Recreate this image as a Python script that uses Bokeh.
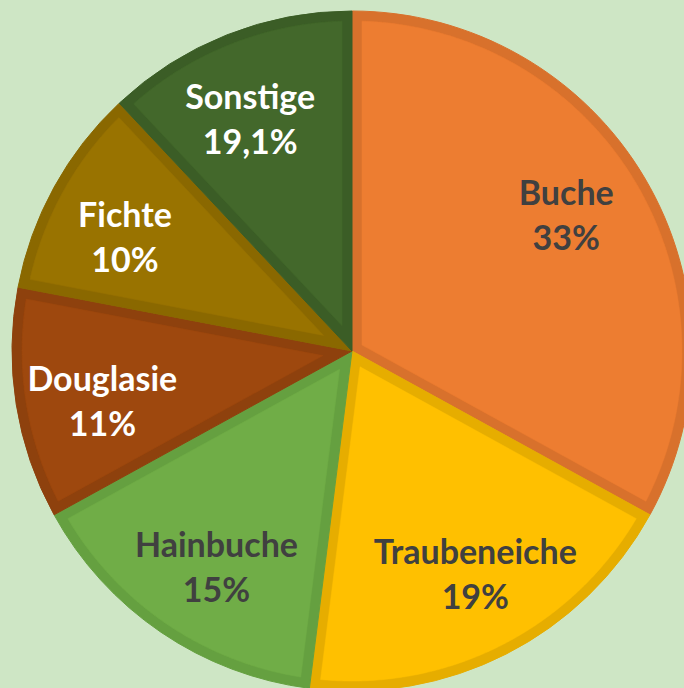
import numpy as np
from bokeh.plotting import figure
from bokeh.models import Range1d, ColumnDataSource
from bokeh.embed import file_html
from bokeh.resources import INLINE
from bokeh.core.properties import value

# ---- data ----
species = ["Buche", "Traubeneiche", "Hainbuche", "Douglasie", "Fichte", "Sonstige"]
shares = [33, 19, 15, 11, 10, 12]          # wedge sizes as drawn
pct_labels = ["33%", "19%", "15%", "11%", "10%", "19,1%"]

# ---- styles ----
fill_colors = ["#ED7D31", "#FFC000", "#70AD47", "#9E480E", "#997300", "#43682B"]
edge_colors = ["#D8712C", "#E6AD00", "#65A040", "#8E410D", "#8A6800", "#3B5D26"]
text_colors = ["#404040", "#404040", "#404040", "#FFFFFF", "#FFFFFF", "#FFFFFF"]
BG = "#CEE6C5"

W, H = 684, 688
cx, cy = 351.5, H - 350.5
R = 340.0
inset = 10.0
label_r = 0.748 * R
label_rot = np.deg2rad(2.0)
line_gap = 22.5

p = figure(width=W, height=H, x_range=Range1d(0, W), y_range=Range1d(0, H),
           x_axis_location=None, y_axis_location=None, toolbar_location=None,
           output_backend="svg", min_border=0)
p.grid.visible = False
p.outline_line_color = None
p.background_fill_color = BG
p.border_fill_color = BG

total = float(sum(shares))
start = np.pi / 2
starts, ends, mids = [], [], []
xs_in, ys_in = [], []
Rin = R - inset
t = np.sqrt(Rin ** 2 - inset ** 2)
delta = np.arctan2(inset, t)
for v in shares:
    span = 2 * np.pi * v / total
    s = start
    e = s - span
    h = span / 2
    mid = s - h
    vr = inset / np.sin(h)
    arc = np.linspace(s - delta, e + delta, 160)
    xs = [cx + vr * np.cos(mid)] + list(cx + Rin * np.cos(arc))
    ys = [cy + vr * np.sin(mid)] + list(cy + Rin * np.sin(arc))
    xs_in.append(xs)
    ys_in.append(ys)
    starts.append(s)
    ends.append(e)
    mids.append(mid)
    start = e

wsrc = ColumnDataSource(dict(start=ends, end=starts, color=edge_colors))
p.wedge(x=cx, y=cy, radius=R, start_angle="start", end_angle="end",
        direction="anticlock", fill_color="color", line_color="color",
        line_width=1, source=wsrc)
p.patches(xs=xs_in, ys=ys_in, fill_color=fill_colors, line_color=fill_colors,
          line_width=0.5)

mids = np.array(mids) + label_rot
lx = cx + label_r * np.cos(mids)
ly = cy + label_r * np.sin(mids)
tsrc = ColumnDataSource(dict(x=lx, y1=ly + line_gap, y2=ly - line_gap,
                             name=species, pct=pct_labels, color=text_colors))
for ycol, tcol in (("y1", "name"), ("y2", "pct")):
    p.text(x="x", y=ycol, text=tcol, source=tsrc, text_color="color",
           text_font=value("Lato"), text_font_style="bold",
           text_font_size="34px", text_align="center", text_baseline="middle")

TEMPLATE = """
{% block preamble %}<style>html, body { background: #CEE6C5; margin: 0; overflow: hidden; }</style>{% endblock %}
"""
open("out.html", "w").write(file_html(p, INLINE, template=TEMPLATE))
